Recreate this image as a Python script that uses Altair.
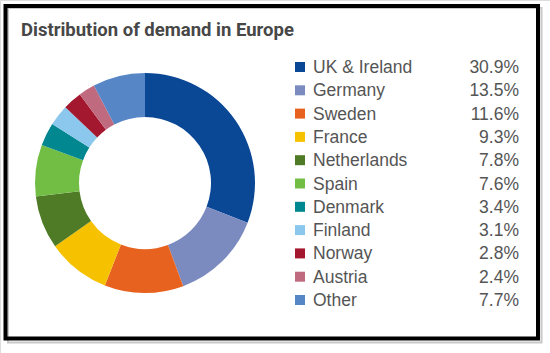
import altair as alt
import pandas as pd

countries = ["UK & Ireland", "Germany", "Sweden", "France", "Netherlands", "Spain",
             "Denmark", "Finland", "Norway", "Austria", "Other"]
shares = [30.9, 13.5, 11.6, 9.3, 7.8, 7.6, 3.4, 3.1, 2.8, 2.4, 7.7]
colors = ["#0a4896", "#7b8bc0", "#e8621f", "#f6c200", "#4f7a26", "#72be45",
          "#00878f", "#8cc8ee", "#a3182f", "#c06a80", "#5686c6"]

df = pd.DataFrame({
    "country": countries,
    "share": shares,
    "idx": list(range(len(countries))),
    "label": [f"{v:.1f}%" for v in shares],
})

W, H = 550, 353
base = alt.Chart(df)
color = alt.Color("country:N", scale=alt.Scale(domain=countries, range=colors), legend=None)

donut = base.mark_arc(radius=110, radius2=66).encode(
    theta=alt.Theta("share:Q", stack=True),
    order=alt.Order("idx:Q"),
    color=color,
    x=alt.value(145), y=alt.value(183),
)

yenc = alt.Y("country:N", sort=countries,
             scale=alt.Scale(type="point", range=[67, 300], padding=0), axis=None)

squares = base.mark_square(size=100, opacity=1).encode(
    x=alt.value(300), y=yenc, color=color,
)
names = base.mark_text(align="left", baseline="middle", font="Liberation Sans",
                       fontSize=17.5, color="#555555", dy=1).encode(
    x=alt.value(313), y=yenc, text="country:N",
)
values = base.mark_text(align="right", baseline="middle", font="Liberation Sans",
                        fontSize=17.5, color="#555555", dy=1).encode(
    x=alt.value(519), y=yenc, text="label:N",
)

frame_df = pd.DataFrame({"k": [0]})
shadow = alt.Chart(frame_df).mark_rect(fill=None, stroke="#c8c8c8", strokeWidth=2).encode(
    x=alt.value(8), x2=alt.value(541.5), y=alt.value(8), y2=alt.value(342.5),
)
frame = alt.Chart(frame_df).mark_rect(fill=None, stroke="#000000", strokeWidth=4).encode(
    x=alt.value(5.5), x2=alt.value(538), y=alt.value(6), y2=alt.value(338.5),
)
title = alt.Chart(frame_df).mark_text(align="left", baseline="alphabetic", font="Roboto",
                                      fontWeight="bold", fontSize=18.5, color="#474747").encode(
    x=alt.value(21), y=alt.value(36), text=alt.value("Distribution of demand in Europe"),
)

chart = alt.layer(shadow, frame, title, donut, squares, names, values).properties(
    width=W, height=H, padding=0, autosize=alt.AutoSizeParams(type="none"),
).configure_view(stroke=None).configure(background="white")

chart.save("out.html", embed_options={"renderer": "svg", "actions": False})
